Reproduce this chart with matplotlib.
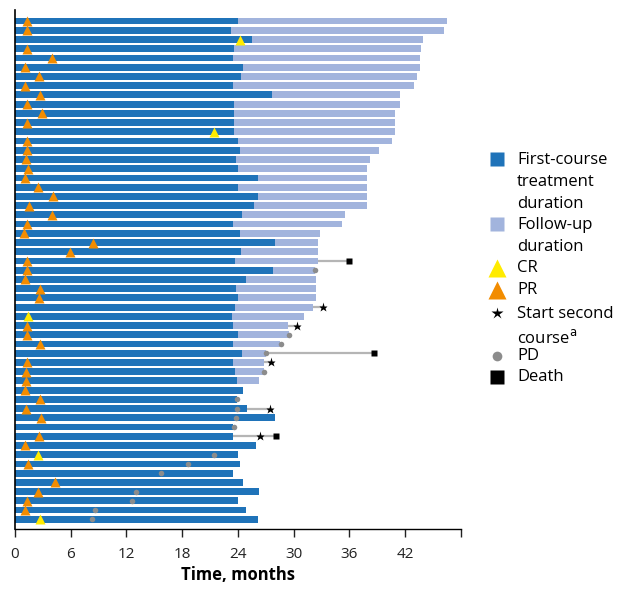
import numpy as np
import matplotlib.pyplot as plt

nan = np.nan

# first-course treatment duration (months), one entry per patient, top to bottom
first_course = [24.0, 23.3, 25.5, 23.6, 23.5, 24.5, 24.3, 23.5, 27.7, 23.6,
                23.6, 23.6, 23.6, 24.0, 24.2, 23.8, 24.0, 26.2, 24.0, 26.2,
                25.7, 24.4, 23.5, 24.2, 28.0, 24.3, 23.7, 27.8, 24.9, 23.8,
                24.0, 23.7, 23.4, 23.5, 24.0, 23.5, 24.4, 23.5, 23.7, 23.9,
                24.5, 23.9, 25.0, 28.0, 23.5, 23.5, 25.9, 24.0, 24.2, 23.5,
                24.5, 26.3, 24.0, 24.9, 26.1]
# end of follow-up (months)
follow_up_end = [46.5, 46.2, 43.9, 43.7, 43.6, 43.6, 43.3, 42.9, 41.4, 41.4,
                 40.9, 40.9, 40.9, 40.6, 39.2, 38.2, 37.9, 37.9, 37.9, 37.9,
                 37.9, 35.5, 35.2, 32.8, 32.6, 32.6, 32.6, 32.3, 32.4, 32.4,
                 32.4, 32.1, 31.1, 29.4, 29.5, 28.5, 27.0, 26.8, 26.8, 26.3,
                 nan, nan, nan, nan, nan, nan, nan, nan, nan, nan,
                 nan, nan, nan, nan, nan]
resp_type = ['PR', 'PR', 'CR', 'PR', 'PR', 'PR', 'PR', 'PR', 'PR', 'PR',
             'PR', 'PR', 'CR', 'PR', 'PR', 'PR', 'PR', 'PR', 'PR', 'PR',
             'PR', 'PR', 'PR', 'PR', 'PR', 'PR', 'PR', 'PR', 'PR', 'PR',
             'PR', None, 'CR', 'PR', 'PR', 'PR', None, 'PR', 'PR', 'PR',
             'PR', 'PR', 'PR', 'PR', None, 'PR', 'PR', 'CR', 'PR', None,
             'PR', 'PR', 'PR', 'PR', 'CR']
resp_time = [1.3, 1.3, 24.2, 1.3, 4.0, 1.05, 2.6, 1.05, 2.7, 1.26,
             2.9, 1.3, 21.4, 1.3, 1.3, 1.15, 1.44, 1.08, 2.5, 4.1,
             1.5, 4.0, 1.26, 1.0, 8.4, 5.9, 1.3, 1.3, 1.1, 2.7,
             2.6, nan, 1.44, 1.26, 1.26, 2.66, nan, 1.3, 1.2, 1.15,
             1.08, 2.7, 1.15, 2.85, nan, 2.55, 1.1, 2.5, 1.44, nan,
             4.3, 2.5, 1.26, 1.1, 2.7]
pd_rows = [28, 35, 36, 37, 39, 42, 43, 44, 45, 48, 49, 50, 52, 53, 54, 55]
pd_time = [32.3, 29.5, 28.6, 27.0, 26.8, 23.9, 23.9, 23.8, 23.6, 21.4,
           18.6, 15.7, 13.0, 12.6, 8.6, 8.3]
second_rows = [32, 34, 38, 43, 46]
second_time = [33.1, 30.3, 27.6, 27.4, 26.4]
death_rows = [27, 37, 46]
death_time = [36.0, 38.6, 28.1]

blue = '#1f73b9'
light = '#a2b4dd'
orange = '#f28c00'
yellow = '#ffeb00'
grey = '#8c8c8c'

plt.rcParams['font.family'] = ['Open Sans', 'DejaVu Sans']

fig = plt.figure(figsize=(6.19, 5.89), dpi=100)
ax = fig.add_axes([15 / 619, 60 / 589, 446 / 619, 519 / 589])

n = len(first_course)
y = np.arange(n)
first = np.array(first_course)
fol = np.array(follow_up_end)

# connector lines to second course / death
ends = {}
for r, t in zip(second_rows, second_time):
    ends[r] = max(ends.get(r, 0), t)
for r, t in zip(death_rows, death_time):
    ends[r] = max(ends.get(r, 0), t)
for r, t in ends.items():
    i = r - 1
    start = fol[i] if not np.isnan(fol[i]) else first[i]
    ax.plot([start, t], [i, i], color='#b5b5b5', lw=1.6, zorder=1)

ax.barh(y, first, height=0.74, color=blue, zorder=2)
ax.barh(y, np.nan_to_num(fol - first), left=first, height=0.74, color=light, zorder=2)

for i in range(n):
    if resp_type[i] == 'PR':
        ax.plot(resp_time[i], i, '^', color=orange, ms=7, mec='none', zorder=4)
    elif resp_type[i] == 'CR':
        ax.plot(resp_time[i], i, '^', color=yellow, ms=7, mec='none', zorder=4)

ax.plot(pd_time, np.array(pd_rows) - 1, 'o', color=grey, ms=4, mec='none', zorder=4)
ax.plot(second_time, np.array(second_rows) - 1, '*', color='black', ms=6.5, mec='none', zorder=4)
ax.plot(death_time, np.array(death_rows) - 1, 's', color='black', ms=5, mec='none', zorder=4)

ax.set_xlim(0, 48)
ax.set_ylim(n + 0.05, -1.2)
ax.set_xticks(np.arange(0, 49, 6))
ax.set_xticklabels([str(v) for v in range(0, 43, 6)] + [''])
ax.set_yticks([])
for s in ['top', 'right']:
    ax.spines[s].set_visible(False)
ax.spines['left'].set_linewidth(1.2)
ax.spines['bottom'].set_linewidth(1.0)
ax.tick_params(axis='x', length=6, width=1, pad=7, labelsize=11, colors='#222222')
ax.set_xlabel('Time, months', fontsize=12, fontweight='bold', labelpad=3)

# legend drawn in pixel coordinates
lg = fig.add_axes([0, 0, 1, 1])
lg.set_xlim(0, 619)
lg.set_ylim(589, 0)
lg.axis('off')
fs = 12
ls = 1.5
mx = 497
tx = 517
lg.plot(mx, 159, 's', color=blue, ms=9.5, mec='none')
lg.text(tx, 152, 'First-course\ntreatment\nduration', fontsize=fs, va='top', linespacing=ls)
lg.plot(mx, 224, 's', color=light, ms=9.5, mec='none')
lg.text(tx, 217, 'Follow-up\nduration', fontsize=fs, va='top', linespacing=ls)
lg.plot(mx, 268, '^', color=yellow, ms=13, mec='none')
lg.text(tx, 268, 'CR', fontsize=fs, va='center')
lg.plot(mx, 290, '^', color=orange, ms=13, mec='none')
lg.text(tx, 290, 'PR', fontsize=fs, va='center')
lg.plot(mx, 313, '*', color='black', ms=9, mec='none')
lg.text(tx, 306, 'Start second\ncourse$^{\\mathrm{a}}$', fontsize=fs, va='top', linespacing=ls)
lg.plot(mx, 356, 'o', color=grey, ms=7, mec='none')
lg.text(tx, 356, 'PD', fontsize=fs, va='center')
lg.plot(mx, 377, 's', color='black', ms=9.5, mec='none')
lg.text(tx, 377, 'Death', fontsize=fs, va='center')

fig.savefig('out.png', dpi=100)
